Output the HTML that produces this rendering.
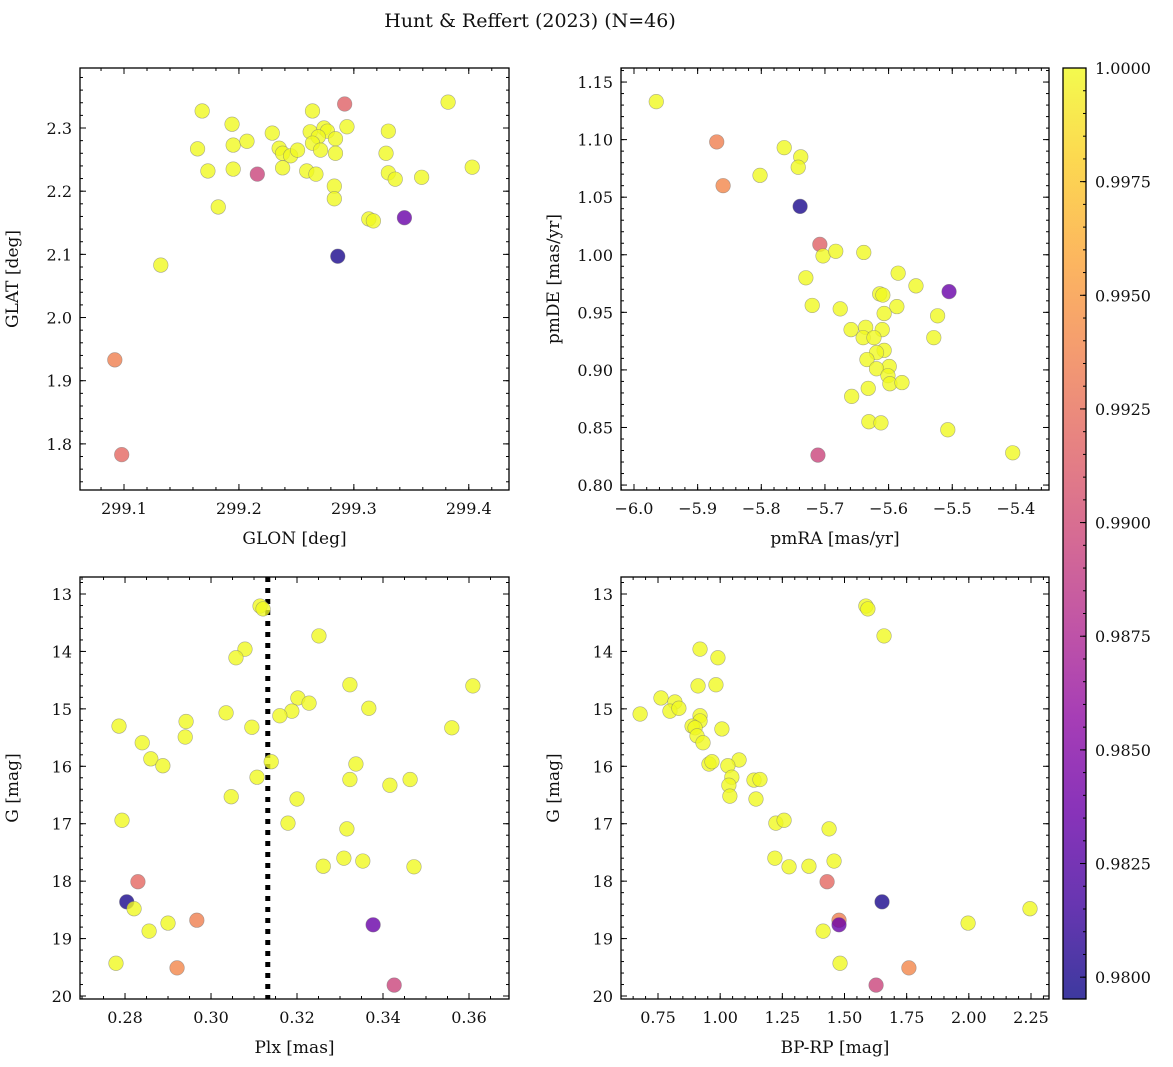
<!DOCTYPE html>
<html><head><meta charset="utf-8"><style>
html,body{margin:0;padding:0;background:#fff;}
svg{display:block;font-family:"DejaVu Serif","Liberation Serif",serif;}
</style></head><body>
<svg id="fig" width="1173" height="1067" viewBox="0 0 1173 1067" xmlns="http://www.w3.org/2000/svg">
<text x="530" y="27" font-size="19" text-anchor="middle" fill="#111">Hunt &amp; Reffert (2023) (N=46)</text>
<defs>
<linearGradient id="plasmaGrad" x1="0" y1="1" x2="0" y2="0">
<stop offset="0" stop-color="#0d0887"/><stop offset="0.1" stop-color="#41049d"/><stop offset="0.2" stop-color="#6a00a8"/><stop offset="0.3" stop-color="#8f0da4"/><stop offset="0.4" stop-color="#b12a90"/><stop offset="0.5" stop-color="#cc4778"/><stop offset="0.6" stop-color="#e16462"/><stop offset="0.7" stop-color="#f2844b"/><stop offset="0.8" stop-color="#fca636"/><stop offset="0.9" stop-color="#fcce25"/><stop offset="1" stop-color="#f0f921"/>
</linearGradient>
</defs>
</svg>
<script>
// ---- data ----
const glon = [299.168,299.194,299.164,299.195,299.207,299.173,299.195,299.216,299.182,299.229,299.235,299.238,299.245,299.251,299.238,299.259,299.267,299.264,299.292,299.262,299.274,299.277,299.294,299.269,299.264,299.284,299.271,299.284,299.283,299.283,299.313,299.317,299.344,299.330,299.328,299.330,299.336,299.359,299.382,299.403,299.286,299.132,299.092,299.098];
const glat = [2.327,2.306,2.267,2.273,2.279,2.232,2.235,2.227,2.175,2.292,2.268,2.260,2.256,2.265,2.237,2.232,2.227,2.327,2.338,2.294,2.300,2.295,2.302,2.286,2.276,2.283,2.265,2.260,2.208,2.188,2.156,2.153,2.158,2.295,2.260,2.229,2.219,2.222,2.341,2.238,2.097,2.083,1.933,1.783];
const prob1 = [1,1,1,1,1,1,1,0.9895,1,1,1,1,1,1,1,1,1,1,0.9915,1,1,1,1,1,1,1,1,1,1,1,1,1,0.9835,1,1,1,1,1,1,1,0.980,1,0.9935,0.992];

const pmra = [-5.965,-5.870,-5.860,-5.764,-5.738,-5.742,-5.802,-5.739,-5.708,-5.703,-5.683,-5.639,-5.730,-5.585,-5.557,-5.720,-5.676,-5.614,-5.609,-5.587,-5.505,-5.523,-5.607,-5.636,-5.659,-5.610,-5.640,-5.623,-5.529,-5.607,-5.619,-5.634,-5.599,-5.619,-5.601,-5.598,-5.579,-5.632,-5.658,-5.631,-5.612,-5.507,-5.711,-5.405];
const pmde = [1.133,1.098,1.060,1.093,1.085,1.076,1.069,1.042,1.009,0.999,1.003,1.002,0.980,0.984,0.973,0.956,0.953,0.966,0.965,0.955,0.968,0.947,0.949,0.937,0.935,0.935,0.928,0.928,0.928,0.917,0.915,0.909,0.903,0.901,0.895,0.888,0.889,0.884,0.877,0.855,0.854,0.848,0.826,0.828];
const prob2 = [1,0.9935,0.994,1,1,1,1,0.980,0.9915,1,1,1,1,1,1,1,1,1,1,1,0.9835,1,1,1,1,1,1,1,1,1,1,1,1,1,1,1,1,1,1,1,1,1,0.9895,1];

const plx = [0.3114,0.3121,0.3251,0.3079,0.3058,0.3323,0.3609,0.3367,0.3202,0.3228,0.3188,0.3160,0.3035,0.2942,0.2786,0.3095,0.2940,0.3560,0.2840,0.2860,0.2888,0.3140,0.3337,0.3107,0.3323,0.3463,0.3416,0.3047,0.3200,0.2793,0.3179,0.3316,0.3309,0.3353,0.3261,0.3472,0.2830,0.2804,0.2821,0.2967,0.2900,0.3377,0.2856,0.2779,0.2921,0.3426];
const gmag3 = [13.21,13.26,13.73,13.96,14.11,14.58,14.60,14.99,14.81,14.90,15.04,15.12,15.07,15.22,15.30,15.32,15.49,15.33,15.59,15.87,15.99,15.92,15.96,16.19,16.23,16.23,16.33,16.53,16.57,16.94,16.99,17.09,17.60,17.65,17.74,17.75,18.01,18.36,18.48,18.68,18.73,18.76,18.87,19.43,19.51,19.81];
const prob3 = [1,1,1,1,1,1,1,1,1,1,1,1,1,1,1,1,1,1,1,1,1,1,1,1,1,1,1,1,1,1,1,1,1,1,1,1,0.992,0.980,1,0.9935,1,0.9835,1,1,0.994,0.9895];
const plxLine = [0.3132];

const bprp = [1.586,1.594,1.659,0.919,0.991,0.911,0.983,0.762,0.678,0.818,0.798,0.834,0.919,0.919,0.887,0.899,0.907,1.007,0.931,1.076,0.955,0.967,1.031,1.047,1.136,1.160,1.035,1.039,1.144,1.224,1.257,1.438,1.220,1.458,1.357,1.277,1.430,1.651,2.246,1.478,1.478,1.997,1.414,1.482,1.759,1.627];
const gmag4 = [13.21,13.26,13.73,13.96,14.11,14.60,14.58,14.81,15.09,14.88,15.04,14.99,15.12,15.21,15.30,15.33,15.47,15.35,15.59,15.89,15.96,15.92,15.99,16.19,16.24,16.23,16.33,16.52,16.57,16.99,16.94,17.09,17.60,17.65,17.74,17.75,18.01,18.36,18.48,18.68,18.76,18.73,18.87,19.43,19.51,19.81];
const prob4 = [1,1,1,1,1,1,1,1,1,1,1,1,1,1,1,1,1,1,1,1,1,1,1,1,1,1,1,1,1,1,1,1,1,1,1,1,0.992,0.980,1,0.9935,0.9835,1,1,1,0.994,0.9895];

const cbarTicks = [0.9800,0.9825,0.9850,0.9875,0.9900,0.9925,0.9950,0.9975,1.0000];

// ---- helpers ----
const NS='http://www.w3.org/2000/svg';
const svg=document.getElementById('fig');
function mk(tag,attrs,parent){const e=document.createElementNS(NS,tag);for(const k in attrs)e.setAttribute(k,attrs[k]);(parent||svg).appendChild(e);return e;}
const stops=[[13,8,135],[65,4,157],[106,0,168],[143,13,164],[177,42,144],[204,71,120],[225,100,98],[242,132,75],[252,166,54],[252,206,37],[240,249,33]];
const CMIN=0.97952,CMAX=1.0;
function plasma(v){let t=(v-CMIN)/(CMAX-CMIN);t=Math.max(0,Math.min(1,t));const f=t*10;const i=Math.min(9,Math.floor(f));const u=f-i;const a=stops[i],b=stops[i+1];return 'rgb('+[0,1,2].map(k=>Math.round(a[k]+(b[k]-a[k])*u)).join(',')+')';}
function fmt(v,d){return v.toFixed(d).replace('-','\u2212');}

function panel(p){
  const g=mk('g',{});
  
  
  const sx=v=>p.x0+(v-p.xmin)/(p.xmax-p.xmin)*(p.x1-p.x0);
  const sy=v=>p.yinv? p.y0+(v-p.ymin)/(p.ymax-p.ymin)*(p.y1-p.y0) : p.y1-(v-p.ymin)/(p.ymax-p.ymin)*(p.y1-p.y0);
  // ticks
  const tg=mk('g',{stroke:'#000','stroke-width':1},g);
  function eachTick(min,max,step,fn){const s=Math.ceil(min/step-1e-6);for(let k=s;k*step<=max+1e-9;k++)fn(k*step);}
  eachTick(p.xmin,p.xmax,p.xminor,v=>{const x=sx(v);mk('line',{x1:x,x2:x,y1:p.y1,y2:p.y1-3},tg);mk('line',{x1:x,x2:x,y1:p.y0,y2:p.y0+3},tg);});
  eachTick(p.xmin,p.xmax,p.xmajor,v=>{const x=sx(v);mk('line',{x1:x,x2:x,y1:p.y1,y2:p.y1-6},tg);mk('line',{x1:x,x2:x,y1:p.y0,y2:p.y0+6},tg);
    const t=mk('text',{x:x,y:p.y1+24,'font-size':16,'text-anchor':'middle',fill:'#111'},g);t.textContent=fmt(v,p.xdec);
    });
  eachTick(p.ymin,p.ymax,p.yminor,v=>{const y=sy(v);mk('line',{x1:p.x0,x2:p.x0+3,y1:y,y2:y},tg);mk('line',{x1:p.x1,x2:p.x1-3,y1:y,y2:y},tg);});
  eachTick(p.ymin,p.ymax,p.ymajor,v=>{const y=sy(v);mk('line',{x1:p.x0,x2:p.x0+6,y1:y,y2:y},tg);mk('line',{x1:p.x1,x2:p.x1-6,y1:y,y2:y},tg);
    const t=mk('text',{x:p.x0-8,y:y+6,'font-size':16,'text-anchor':'end',fill:'#111'},g);t.textContent=fmt(v,p.ydec);
    });
  // extra line
  if(p.vline){p.vline.forEach(v=>{const l=mk('line',{x1:sx(v),x2:sx(v),y1:p.y0,y2:p.y1,stroke:'#000','stroke-width':5,'stroke-dasharray':'5 6'},g);
    });}
  // points
  const pg=mk('g',{},g);
  
  p.xs.forEach((xv,i)=>{const c=mk('circle',{cx:sx(xv),cy:sy(p.ys[i]),r:7.3,fill:plasma(p.c[i]),'fill-opacity':0.8,stroke:'#777','stroke-opacity':0.6,'stroke-width':0.6},pg);
    });
  const fr=mk('rect',{x:p.x0,y:p.y0,width:p.x1-p.x0,height:p.y1-p.y0,fill:'none',stroke:'#000','stroke-width':1.3},g);
  
  const xl=mk('text',{x:(p.x0+p.x1)/2,y:p.y1+54,'font-size':17,'text-anchor':'middle',fill:'#111'},g);xl.textContent=p.xlabel;
  
  const yx=p.x0-62,yc=(p.y0+p.y1)/2;
  const yl=mk('text',{x:yx,y:yc,'font-size':17,'text-anchor':'middle',fill:'#111',transform:'rotate(-90 '+yx+' '+yc+')'},g);yl.textContent=p.ylabel;
  
}

panel({name:'glon-glat-panel',x0:80,x1:509,y0:68,y1:490,xmin:299.0617,xmax:299.435,ymin:1.727,ymax:2.395,xmajor:0.1,xminor:0.02,ymajor:0.1,yminor:0.02,xdec:1,ydec:1,xs:glon,ys:glat,c:prob1,xlabel:'GLON [deg]',ylabel:'GLAT [deg]'});
panel({name:'proper-motion-panel',x0:621,x1:1049,y0:68,y1:490,xmin:-6.0204,xmax:-5.348,ymin:0.7957,ymax:1.1622,xmajor:0.1,xminor:0.02,ymajor:0.05,yminor:0.01,xdec:1,ydec:2,xs:pmra,ys:pmde,c:prob2,xlabel:'pmRA [mas/yr]',ylabel:'pmDE [mas/yr]'});
panel({name:'parallax-mag-panel',x0:80,x1:509,y0:577,y1:999,xmin:0.26953,xmax:0.3693,ymin:12.704,ymax:20.052,yinv:true,xmajor:0.02,xminor:0.005,ymajor:1,yminor:0.2,xdec:2,ydec:0,xs:plx,ys:gmag3,c:prob3,vline:plxLine,xlabel:'Plx [mas]',ylabel:'G [mag]'});
panel({name:'cmd-panel',x0:621,x1:1049,y0:577,y1:999,xmin:0.6012,xmax:2.3224,ymin:12.704,ymax:20.052,yinv:true,xmajor:0.25,xminor:0.05,ymajor:1,yminor:0.2,xdec:2,ydec:0,xs:bprp,ys:gmag4,c:prob4,xlabel:'BP-RP [mag]',ylabel:'G [mag]'});

// colorbar
const cb=mk('g',{});


const cx0=1063,cx1=1086,cy0=68,cy1=999;
mk('rect',{x:cx0,y:cy0,width:cx1-cx0,height:cy1-cy0,fill:'url(#plasmaGrad)','fill-opacity':0.8},cb);
const csy=v=>cy1-(v-CMIN)/(CMAX-CMIN)*(cy1-cy0);
for(let v=0.9800;v<=1.00001;v+=0.0005){const y=csy(v);mk('line',{x1:cx1,x2:cx1-3,y1:y,y2:y,stroke:'#000','stroke-width':1},cb);}
cbarTicks.forEach(v=>{const y=csy(v);mk('line',{x1:cx1,x2:cx1-6,y1:y,y2:y,stroke:'#000','stroke-width':1},cb);
  const t=mk('text',{x:cx1+9,y:y+6,'font-size':16,fill:'#111'},cb);t.textContent=v.toFixed(4);
  });
mk('rect',{x:cx0,y:cy0,width:cx1-cx0,height:cy1-cy0,fill:'none',stroke:'#000','stroke-width':1.3},cb);
</script>
</body></html>
